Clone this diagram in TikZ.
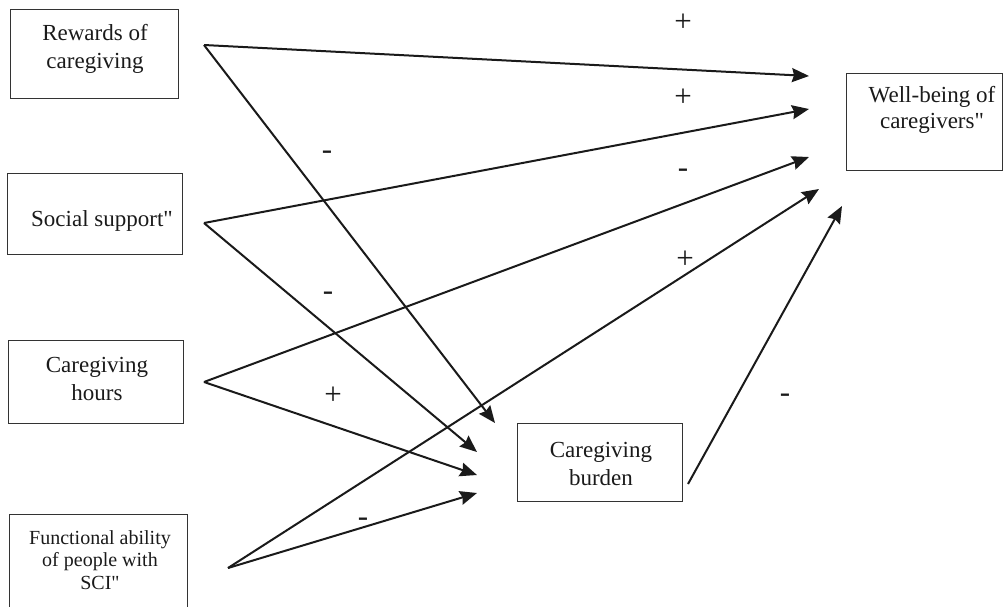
\documentclass[tikz,border=0pt]{standalone}
\usepackage{fontspec}
\setmainfont{Liberation Serif}[Ligatures=TeXOff]
\usetikzlibrary{arrows.meta, positioning}
\definecolor{boxGray}{HTML}{333333}
\definecolor{inkBlack}{HTML}{1A1A1A}
\tikzset{
  factor/.style={draw=boxGray, line width=1pt, rectangle, inner sep=0pt},
  caption/.style={align=center, text=inkBlack, inner sep=0pt,
    font=\fontsize{23}{28}\selectfont},
  link/.style={line width=2pt, draw=inkBlack,
    -{Stealth[length=17pt, width=14pt, inset=2pt]}},
  sign/.style={text=inkBlack, inner sep=0pt, font=\fontsize{31}{31}\selectfont},
}
% box of one factor: name, centre x, centre y, width, height
\newcommand{\factorbox}[5]{%
  \node[factor, minimum width=#4pt, minimum height=#5pt] (#1) at (#2,#3) {};%
}

\begin{document}
\begin{tikzpicture}[x=1pt, y=-1pt]
\useasboundingbox (0,0) rectangle (1004,606);

% --- BOXES ---
\factorbox{rewards}  {94}  {53.5} {168}{89}
\factorbox{social}   {94.5}{213.5}{175}{81}
\factorbox{hours}    {95.5}{381.5}{175}{83}
\factorbox{ability}  {98}  {570}  {178}{112}
\factorbox{burden}   {599.5}{462} {165}{78}
\factorbox{wellbeing}{924} {121.5}{156}{97}

% --- TEXTS ---
\node[caption] (rewardsTxt)   at (95,49)   {Rewards of\\caregiving};
\node[caption] (socialTxt)    at (102,221) {Social support"};
\node[caption] (hoursTxt)     at (97,379)  {Caregiving\\hours};
\node[caption, font=\fontsize{20}{22.5}\selectfont]
               (abilityTxt)   at (100,560) {Functional ability\\of people with\\SCI"};
\node[caption] (burdenTxt)    at (601,464) {Caregiving\\burden};
\node[caption, font=\fontsize{23}{26}\selectfont]
               (wellbeingTxt) at (932,110) {Well-being of\\caregivers"};

% --- ARROW ENDS ---
\coordinate (rewardsOut) at (204,45);
\coordinate (socialOut)  at (204,223);
\coordinate (hoursOut)   at (204,382);
\coordinate (abilityOut) at (228,568);
\coordinate (burdenOut)  at (688,484);
\coordinate (wIn1) at (809,76);
\coordinate (wIn2) at (809,109);
\coordinate (wIn3) at (809,157);
\coordinate (wIn4) at (819,189);
\coordinate (wIn5) at (842,206);
\coordinate (bIn1) at (495,423);
\coordinate (bIn2) at (477,452);
\coordinate (bIn3) at (477,475);
\coordinate (bIn4) at (477,493);

% --- PATHS ---
\draw[link] (rewardsOut) -- (wIn1);
\draw[link] (rewardsOut) -- (bIn1);
\draw[link] (socialOut)  -- (wIn2);
\draw[link] (socialOut)  -- (bIn2);
\draw[link] (hoursOut)   -- (wIn3);
\draw[link] (hoursOut)   -- (bIn3);
\draw[link] (abilityOut) -- (bIn4);
\draw[link] (abilityOut) -- (wIn4);
\draw[link] (burdenOut)  -- (wIn5);

% --- SIGNS ---
\foreach \name/\x/\y/\s in {
  sgnA/683/23/{+}, sgnB/683/98/{+}, sgnC/683/173/{-}, sgnD/685/260/{+},
  sgnE/327/155/{-}, sgnF/328/296/{-}, sgnG/333/396/{+},
  sgnH/363/522/{-}, sgnI/785/398/{-}
}{
  \node[sign] (\name) at (\x,\y) {\s};
}

\end{tikzpicture}
\end{document}
